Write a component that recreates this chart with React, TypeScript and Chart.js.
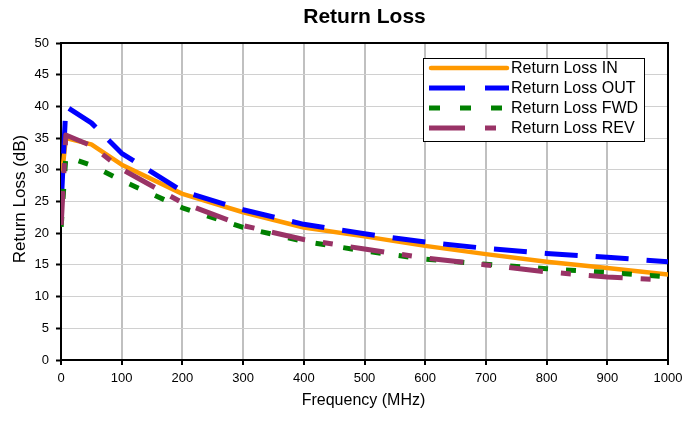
import Chart from 'chart.js/auto';
import { useEffect, useRef } from 'react';

const FONT = '"Liberation Sans", Arial, sans-serif';

// frequency (MHz) of the measured points
const freqMHz = [0.3, 8, 50, 100, 200, 300, 400, 500, 600, 700, 800, 900, 1000];

// return loss (dB) per port
const lossIn = [28.0, 35.0, 34.0, 30.8, 26.2, 23.3, 20.9, 19.5, 18.0, 16.7, 15.5, 14.5, 13.5];
const lossOut = [24.5, 40.0, 37.4, 32.6, 26.6, 23.7, 21.4, 19.9, 18.6, 17.6, 16.8, 16.2, 15.5];
const lossFwd = [21.0, 32.1, 30.7, 28.3, 24.0, 20.9, 18.7, 17.2, 15.9, 15.1, 14.4, 13.8, 13.1];
const lossRev = [21.3, 35.5, 33.8, 30.1, 24.8, 21.2, 19.0, 17.5, 16.1, 15.0, 13.9, 13.1, 12.6];

const seriesNames = ['Return Loss IN', 'Return Loss OUT', 'Return Loss FWD', 'Return Loss REV'];
const seriesColors = ['#FF9900', '#0000FF', '#008000', '#993366'];
const seriesDash = [[], [33, 18], [10, 18], [34, 18, 10, 18]];
const seriesWidth = [4.5, 5, 5, 5];

const xTicks = [0, 100, 200, 300, 400, 500, 600, 700, 800, 900, 1000];
const yTicks = [0, 5, 10, 15, 20, 25, 30, 35, 40, 45, 50];

const toPoints = (ys: number[]) => ys.map((y, i) => ({ x: freqMHz[i], y }));

// frame + titles + boxed legend, drawn like the spreadsheet original
const decorPlugin = {
  id: 'decor',
  beforeDatasetsDraw(chart: any) {
    const { ctx, chartArea: a } = chart;
    ctx.save();
    ctx.strokeStyle = '#000';
    ctx.lineWidth = 2;
    ctx.strokeRect(a.left, a.top, a.right - a.left, a.bottom - a.top);
    ctx.restore();
  },
  afterDraw(chart: any) {
    const { ctx, chartArea: a } = chart;
    const cx = (a.left + a.right) / 2;
    ctx.save();
    ctx.fillStyle = '#000';
    ctx.textAlign = 'center';
    ctx.textBaseline = 'alphabetic';
    ctx.font = `bold 21px ${FONT}`;
    ctx.fillText('Return Loss', cx, 22.5);
    ctx.font = `16px ${FONT}`;
    ctx.fillText('Frequency (MHz)', cx - 1, 405);
    ctx.font = `17px ${FONT}`;
    ctx.translate(25, 199);
    ctx.rotate(-Math.PI / 2);
    ctx.fillText('Return Loss (dB)', 0, 0);
    ctx.restore();

    // legend box
    const lx = 423, ly = 58, lw = 221, lh = 83;
    ctx.save();
    ctx.fillStyle = '#fff';
    ctx.fillRect(lx, ly, lw, lh);
    ctx.strokeStyle = '#000';
    ctx.lineWidth = 1;
    ctx.strokeRect(lx + 0.5, ly + 0.5, lw, lh);
    ctx.font = `16px ${FONT}`;
    ctx.textBaseline = 'middle';
    ctx.textAlign = 'left';
    seriesNames.forEach((name, i) => {
      const y = ly + 10 + i * 20;
      ctx.strokeStyle = seriesColors[i];
      ctx.lineWidth = seriesWidth[i];
      ctx.lineCap = i === 0 ? 'round' : 'butt';
      ctx.setLineDash(i === 0 ? [] : i === 1 ? [36, 20] : i === 2 ? [11, 20] : [36, 20, 11, 20]);
      ctx.beginPath();
      ctx.moveTo(i === 0 ? 431 : 429, y);
      ctx.lineTo(i === 0 ? 507 : 509, y);
      ctx.stroke();
      ctx.setLineDash([]);
      ctx.fillStyle = '#000';
      ctx.fillText(name, 511, y + 1);
    });
    ctx.restore();
  },
};

export default function App() {
  const canvasRef = useRef<HTMLCanvasElement | null>(null);

  useEffect(() => {
    if (!canvasRef.current) return;
    Chart.defaults.font.family = FONT;
    Chart.defaults.color = '#000';

    const allSeries = [lossIn, lossOut, lossFwd, lossRev];
    const chart = new Chart(canvasRef.current, {
      type: 'line',
      data: {
        datasets: allSeries.map((s, i) => ({
          label: seriesNames[i],
          data: toPoints(s),
          borderColor: seriesColors[i],
          backgroundColor: seriesColors[i],
          borderWidth: seriesWidth[i],
          borderDash: seriesDash[i],
          borderCapStyle: i === 0 ? 'round' : 'butt',
          borderJoinStyle: 'round',
          pointRadius: 0,
          tension: 0,
          fill: false,
          order: 4 - i,
        })),
      },
      options: {
        animation: false,
        responsive: true,
        maintainAspectRatio: false,
        layout: { padding: { top: 43, right: 31, left: 0, bottom: 0 } },
        plugins: {
          legend: { display: false },
          tooltip: { enabled: false },
        },
        scales: {
          x: {
            type: 'linear',
            min: 0,
            max: 1000,
            afterFit: (s: any) => { s.height = 63; },
            afterBuildTicks: (s: any) => { s.ticks = xTicks.map((v) => ({ value: v })); },
            border: { display: false },
            grid: {
              color: '#c0c0c0',
              lineWidth: 2,
              tickColor: '#000',
              tickLength: 5,
              tickWidth: 2,
            },
            ticks: {
              font: { size: 13 },
              padding: 6,
              maxRotation: 0,
              autoSkip: false,
              callback: (v: any) => String(v),
            },
          },
          y: {
            type: 'linear',
            min: 0,
            max: 50,
            afterFit: (s: any) => { s.width = 61; },
            afterBuildTicks: (s: any) => { s.ticks = yTicks.map((v) => ({ value: v })); },
            border: { display: false },
            grid: {
              color: '#d0d0d0',
              lineWidth: 1,
              tickColor: '#000',
              tickLength: 5,
              tickWidth: 2,
            },
            ticks: { font: { size: 13 }, padding: 7, callback: (v: any) => String(v) },
          },
        },
      },
      plugins: [decorPlugin],
    } as any);

    return () => chart.destroy();
  }, []);

  return (
    <div style={{ position: 'absolute', left: 0, top: 0, width: 699, height: 423, background: '#fff' }}>
      <canvas ref={canvasRef} />
    </div>
  );
}
